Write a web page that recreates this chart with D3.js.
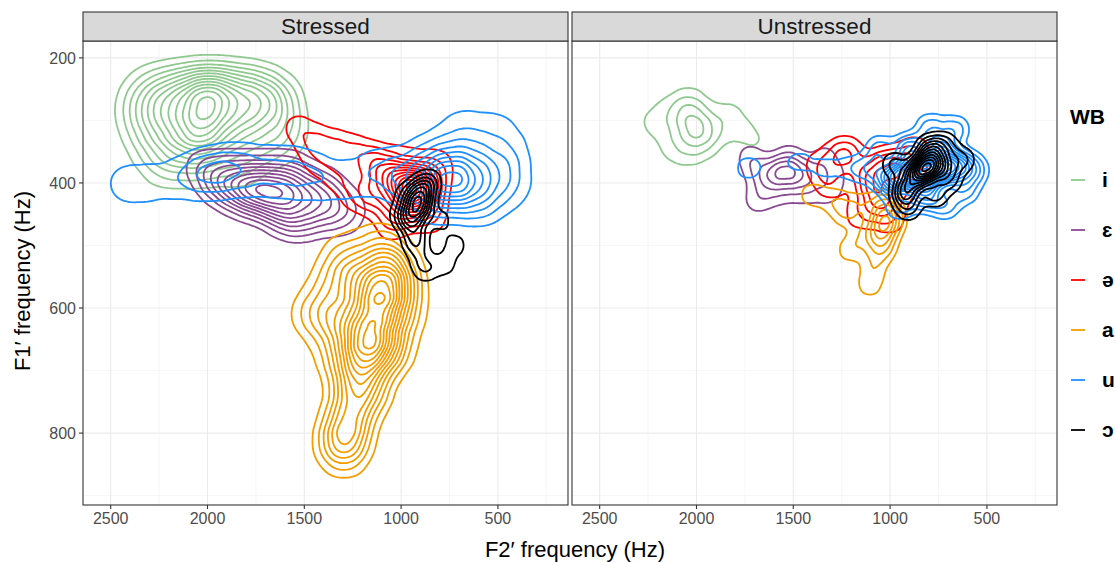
<!DOCTYPE html>
<html>
<head>
<meta charset="utf-8">
<script src="https://cdn.jsdelivr.net/npm/d3@7"></script>
<style>
  html, body { margin: 0; padding: 0; background: #fff; }
  svg { display: block; font-family: "Liberation Sans", Arimo, Helvetica, Arial, sans-serif; }
</style>
</head>
<body>
<svg id="chart" width="1116" height="562"></svg>
<script>
// Vowel categories (legend order) and facets
const vowels = ["i", "ɛ", "ə", "a", "u", "ɔ"];
const facets = ["Stressed", "Unstressed"];
const f2Ticks = [2500, 2000, 1500, 1000, 500];
const f1Ticks = [200, 400, 600, 800];

// Token clusters per vowel: [F2′ (Hz), F1′ (Hz), tokens]
const stressedI = [
  [2298,243,1],[2143,243,2],[1988,243,3],[1833,243,2],[1704,243,1],
  [2350,267,1],[2195,267,2],[2014,267,4],[1859,267,2],[1704,267,2],[1601,267,1],
  [2350,291,1],[2195,291,2],[2014,291,2],[1833,291,2],[1678,291,1],
  [2324,315,1],[2169,315,2],[2025,315,4],[1859,315,2],[1704,315,1],[1575,315,1],
  [2298,347,1],[2143,347,2],[1988,347,2],[1808,347,1],[1652,347,1],
  [2221,379,1],[2040,379,1],[1833,379,1]
];
const stressedE = [
  [2040,371,1],[1885,371,1],[1730,371,1],[1575,371,1],
  [1963,395,2],[1833,395,2],[1704,395,2],[1575,395,2],[1420,395,1],
  [1885,414,2],[1756,414,4],[1627,414,3],[1498,414,2],[1368,414,1],
  [1782,435,1],[1652,435,2],[1523,435,2],[1394,435,2],[1265,435,1],
  [1575,459,1],[1420,459,1],[1291,459,1],[1627,451,1],[1523,467,1]
];
const stressedSchwa = [
  [939,411,4],[1006,395,3],[877,427,2],[903,392,2],[981,435,2],
  [1084,379,2],[1162,363,1.5],[1136,419,2],[1032,451,1],[851,459,1],[826,395,1],
  [1265,347,1],[1368,339,1],[1472,331,1],[1549,307,0.7],[1317,387,1],[1446,371,0.7],
  [1239,419,1],[1058,475,0.7],[955,323,0.7],[800,363,0.7]
];
const stressedA = [
  [1172,643,3.5],[1136,603,3],[1094,568,3],[1203,683,3],[1239,731,2],[1265,779,2],
  [1286,819,1.2],[1058,531,2],[1110,499,1],[1291,515,1],[1368,563,1],[1461,611,1],
  [1317,619,2],[1006,611,1.5],[1068,667,2],[1151,731,1],[981,563,1],[1223,555,2],
  [1342,675,1],[1327,811,0.8],[1296,843,0.5]
];
const stressedU = [
  [748,395,4],[619,395,3],[877,398,3],[748,376,2],[748,416,2],
  [490,382,2],[1006,392,2],[645,347,2],[851,350,1.5],[593,435,2],[851,440,1],
  [428,350,1],[490,307,1],[696,302,1],[412,414,1],[1110,371,1],[1213,395,1],
  [1342,398,1],[1472,398,1],[1601,395,1],[1730,390,1],[1859,384,1.5],[1988,387,1.5],
  [2118,392,1],[2247,398,1],[2376,403,0.9],[2453,400,0.8],
  [1833,363,0.9],[1627,363,0.9],[1472,368,0.7],[2014,382,1.1]
];
const stressedO = [
  [913,435,4],[892,411,3],[944,459,3],[929,491,2],[903,520,1],[877,542,1],
  [774,531,1],[722,499,1],[800,459,1],[851,395,1],[981,419,1],[1006,451,1]
];

const unstressedI = [
  [1994,315,3],[2035,286,2],[1957,339,1],[2087,315,1],[1880,312,1],[1751,318,1],
  [2164,283,1],[2138,347,1],[2035,267,1],[1828,283,1],[2035,355,1],[2242,307,1],
  [1673,339,0.7]
];
const unstressedE = [
  [1544,382,3],[1621,387,2],[1466,387,2],[1389,387,1],[1286,387,1],[1699,379,1],
  [1673,419,1],[1570,419,1],[1441,419,1],[1311,419,1],[1725,355,1],[1518,355,1],
  [1337,355,1],[1699,435,0.6]
];
const unstressedSchwa = [
  [1234,355,2],[1027,371,2],[924,379,2],[1105,395,2],[1053,427,2],[1001,459,1],
  [1156,451,1],[1363,371,1],[1311,403,1],[872,347,1],[950,411,1]
];
const unstressedA = [
  [1037,467,3],[1042,499,2],[1027,435,2],[1079,531,1],[1105,563,1],[1131,483,1],
  [975,459,1],[1156,435,1],[1234,451,1],[1286,427,1],[1404,419,1],[1208,507,1]
];
const unstressedU = [
  [820,382,5],[717,379,3],[924,387,3],[640,371,2],[1001,395,2],[743,347,2],
  [898,347,2],[614,411,1],[820,419,2],[562,379,1],[1053,347,1],[1105,379,1],
  [794,312,1],[717,435,1],[665,315,1],[950,435,1],
  [1208,376,0.6],[1337,376,0.5],[1466,366,0.5],[1595,371,0.3],[1735,376,0.6]
];
const unstressedO = [
  [820,376,4],[872,392,2],[743,371,2],[924,414,2],[908,440,1],[691,395,1],
  [794,347,2],[629,363,1],[975,371,1],[769,419,1],[717,339,1]
];

const tokens = {
  Stressed:   [stressedI, stressedE, stressedSchwa, stressedA, stressedU, stressedO],
  Unstressed: [unstressedI, unstressedE, unstressedSchwa, unstressedA, unstressedU, unstressedO]
};

// Styling
const colors = ["#90c990", "#8a4a92", "#ff0000", "#f29d00", "#1e90ff", "#000000"];
const ringCounts = { Stressed: [13, 10, 12, 13, 9, 8], Unstressed: [4, 5, 5, 6, 15, 12] };
const bandwidths = { Stressed: [15, 13, 12, 15, 16, 8], Unstressed: [12, 10, 11, 9, 9, 8] };

const svg = d3.select("#chart");
const panelTop = 41, panelBottom = 505, panelW = 485;
const panelLeft = [83, 572];
const panelH = panelBottom - panelTop;

const x = d3.scaleLinear().domain([2643, 138]).range([0, panelW]);
const y = d3.scaleLinear().domain([173, 915]).range([0, panelH]);

const defs = svg.append("defs");
defs.append("clipPath").attr("id", "panelClip")
  .append("rect").attr("width", panelW).attr("height", panelH);

facets.forEach((facet, fi) => {
  const g = svg.append("g").attr("transform", `translate(${panelLeft[fi]},${panelTop})`);

  // grid
  const grid = g.append("g");
  const minorX = d3.range(250, 2751, 500).filter(v => v <= 2643 && v >= 138);
  const minorY = d3.range(300, 901, 200);
  grid.selectAll(".mx").data(minorX).join("line")
    .attr("x1", d => x(d)).attr("x2", d => x(d)).attr("y1", 0).attr("y2", panelH)
    .attr("stroke", "#f0f0f0").attr("stroke-width", 0.6);
  grid.selectAll(".my").data(minorY).join("line")
    .attr("y1", d => y(d)).attr("y2", d => y(d)).attr("x1", 0).attr("x2", panelW)
    .attr("stroke", "#f0f0f0").attr("stroke-width", 0.6);
  grid.selectAll(".Mx").data(f2Ticks).join("line")
    .attr("x1", d => x(d)).attr("x2", d => x(d)).attr("y1", 0).attr("y2", panelH)
    .attr("stroke", "#ebebeb").attr("stroke-width", 1.1);
  grid.selectAll(".My").data(f1Ticks).join("line")
    .attr("y1", d => y(d)).attr("y2", d => y(d)).attr("x1", 0).attr("x2", panelW)
    .attr("stroke", "#ebebeb").attr("stroke-width", 1.1);

  // density contours
  const plot = g.append("g").attr("clip-path", "url(#panelClip)");
  tokens[facet].forEach((data, vi) => {
    const density = d3.contourDensity()
      .x(d => x(d[0])).y(d => y(d[1])).weight(d => d[2])
      .size([panelW, panelH]).cellSize(2).bandwidth(bandwidths[facet][vi]);
    const contour = density.contours(data);
    const n = ringCounts[facet][vi];
    const step = contour.max / (n + 0.45);
    const levels = d3.range(1, n + 1).map(k => contour(k * step));
    plot.append("g").selectAll("path").data(levels).join("path")
      .attr("d", d3.geoPath())
      .attr("fill", "none")
      .attr("stroke", colors[vi])
      .attr("stroke-width", 1.8)
      .attr("stroke-linejoin", "round");
  });

  // panel border
  g.append("rect").attr("width", panelW).attr("height", panelH)
    .attr("fill", "none").attr("stroke", "#333").attr("stroke-width", 1.1);

  // strip
  svg.append("rect").attr("x", panelLeft[fi]).attr("y", 12).attr("width", panelW).attr("height", panelTop - 12)
    .attr("fill", "#d9d9d9").attr("stroke", "#333").attr("stroke-width", 1.1);
  svg.append("text").attr("x", panelLeft[fi] + panelW / 2).attr("y", 34)
    .attr("text-anchor", "middle").attr("font-size", 22.5).attr("fill", "#1a1a1a").text(facet);

  // x axis
  const xa = g.append("g").attr("transform", `translate(0,${panelH})`);
  xa.selectAll("line").data(f2Ticks).join("line")
    .attr("x1", d => x(d)).attr("x2", d => x(d)).attr("y1", 0).attr("y2", 4)
    .attr("stroke", "#333").attr("stroke-width", 1.1);
  xa.selectAll("text").data(f2Ticks).join("text")
    .attr("x", d => x(d)).attr("y", 19).attr("text-anchor", "middle")
    .attr("font-size", 16).attr("fill", "#4d4d4d").text(d => d);
});

// y axis (left panel)
const ya = svg.append("g").attr("transform", `translate(${panelLeft[0]},${panelTop})`);
ya.selectAll("line").data(f1Ticks).join("line")
  .attr("x1", -4).attr("x2", 0).attr("y1", d => y(d)).attr("y2", d => y(d))
  .attr("stroke", "#333").attr("stroke-width", 1.1);
ya.selectAll("text").data(f1Ticks).join("text")
  .attr("x", -7).attr("y", d => y(d) + 6).attr("text-anchor", "end")
  .attr("font-size", 16).attr("fill", "#4d4d4d").text(d => d);

// axis titles
svg.append("text").attr("x", 575).attr("y", 557)
  .attr("text-anchor", "middle").attr("font-size", 22).attr("fill", "#000").text("F2′ frequency (Hz)");
svg.append("text").attr("transform", "translate(30,281) rotate(-90)")
  .attr("text-anchor", "middle").attr("font-size", 22).attr("fill", "#000").text("F1′ frequency (Hz)");

// legend
const lg = svg.append("g").attr("transform", "translate(1070,0)");
lg.append("text").attr("x", 0).attr("y", 124).attr("font-size", 21).attr("font-weight", "bold").text("WB");
vowels.forEach((v, i) => {
  const cy = 180 + i * 50;
  lg.append("line").attr("x1", 1).attr("x2", 15).attr("y1", cy).attr("y2", cy)
    .attr("stroke", colors[i]).attr("stroke-width", 1.8);
  lg.append("text").attr("x", 32).attr("y", cy + 7).attr("font-size", 21).attr("font-weight", "bold").text(v);
});
</script>
</body>
</html>
